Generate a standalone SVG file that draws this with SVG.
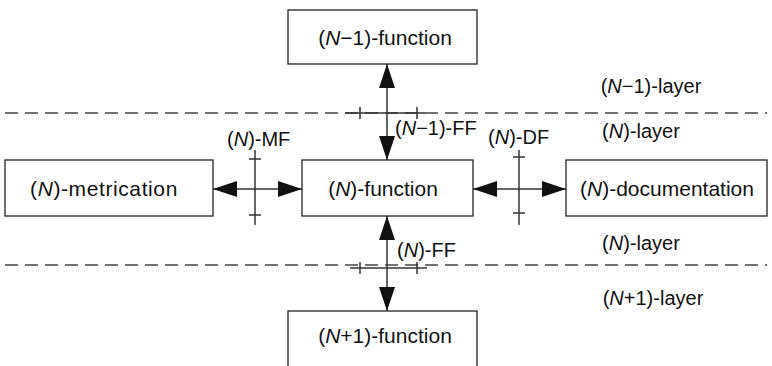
<svg xmlns="http://www.w3.org/2000/svg" width="772" height="366" viewBox="0 0 772 366">
<defs>
<style>
.box{fill:#fff;stroke:#222;stroke-width:1.3}
.t{font-family:"Liberation Sans",Arial,sans-serif;font-size:20px;fill:#111}
.b{font-size:21px}
.c{text-anchor:middle}
.ln{stroke:#333;stroke-width:1.5;fill:none}
.dash{stroke:#444;stroke-width:1.3;stroke-dasharray:13 7;fill:none}
</style>
<marker id="ah" markerUnits="userSpaceOnUse" markerWidth="24" markerHeight="16" refX="24" refY="8" orient="auto-start-reverse" viewBox="0 0 24 16">
<path d="M0,0 L24,8 L0,16 z" fill="#111"/>
</marker>
</defs>
<g id="layers">
<line class="dash" x1="5" y1="113" x2="767" y2="113"/>
<line class="dash" x1="5" y1="265" x2="767" y2="265"/>
<text class="t c" x="651" y="93">(<tspan font-style="italic">N</tspan>−1)-layer</text>
<text class="t c" x="641" y="138">(<tspan font-style="italic">N</tspan>)-layer</text>
<text class="t c" x="641" y="250">(<tspan font-style="italic">N</tspan>)-layer</text>
<text class="t c" x="653" y="305">(<tspan font-style="italic">N</tspan>+1)-layer</text>
</g>
<g id="connectors">
<line class="ln" x1="387" y1="64" x2="387" y2="160" marker-start="url(#ah)" marker-end="url(#ah)"/>
<line class="ln" x1="387" y1="216" x2="387" y2="311" marker-start="url(#ah)" marker-end="url(#ah)"/>
<line class="ln" x1="213" y1="189" x2="302" y2="189" marker-start="url(#ah)" marker-end="url(#ah)"/>
<line class="ln" x1="473" y1="189" x2="566" y2="189" marker-start="url(#ah)" marker-end="url(#ah)"/>
<g id="ff-top">
<line class="ln" x1="345" y1="113" x2="425" y2="113"/>
<line class="ln" x1="360" y1="107" x2="360" y2="119"/>
<line class="ln" x1="417" y1="107" x2="417" y2="119"/>
<text class="t" x="395" y="135">(<tspan font-style="italic">N</tspan>−1)-FF</text>
</g>
<g id="ff-bottom">
<line class="ln" x1="350" y1="268" x2="427" y2="268"/>
<line class="ln" x1="360" y1="262" x2="360" y2="274"/>
<line class="ln" x1="417" y1="262" x2="417" y2="274"/>
<text class="t" x="397" y="257">(<tspan font-style="italic">N</tspan>)-FF</text>
</g>
<g id="mf">
<line class="ln" x1="255" y1="150" x2="255" y2="225"/>
<line class="ln" x1="249" y1="159" x2="261" y2="159"/>
<line class="ln" x1="249" y1="215" x2="261" y2="215"/>
<text class="t" x="227" y="146">(<tspan font-style="italic">N</tspan>)-MF</text>
</g>
<g id="df">
<line class="ln" x1="519" y1="150" x2="519" y2="225"/>
<line class="ln" x1="513" y1="157" x2="525" y2="157"/>
<line class="ln" x1="513" y1="213" x2="525" y2="213"/>
<text class="t" x="488" y="144">(<tspan font-style="italic">N</tspan>)-DF</text>
</g>
</g>
<g id="n-minus-1-function">
<rect class="box" x="288" y="10" width="189" height="54"/>
<text class="t b c" x="385" y="45">(<tspan font-style="italic">N</tspan>−1)-function</text>
</g>
<g id="n-function">
<rect class="box" x="302" y="160" width="171" height="56"/>
<text class="t b c" x="383" y="196">(<tspan font-style="italic">N</tspan>)-function</text>
</g>
<g id="n-metrication">
<rect class="box" x="5" y="160" width="208" height="56"/>
<text class="t b c" x="104" y="196" letter-spacing="0.6">(<tspan font-style="italic">N</tspan>)-metrication</text>
</g>
<g id="n-documentation">
<rect class="box" x="566" y="160" width="201" height="56"/>
<text class="t b c" x="667" y="196">(<tspan font-style="italic">N</tspan>)-documentation</text>
</g>
<g id="n-plus-1-function">
<rect class="box" x="288" y="311" width="189" height="60"/>
<text class="t b c" x="385" y="343">(<tspan font-style="italic">N</tspan>+1)-function</text>
</g>
</svg>
